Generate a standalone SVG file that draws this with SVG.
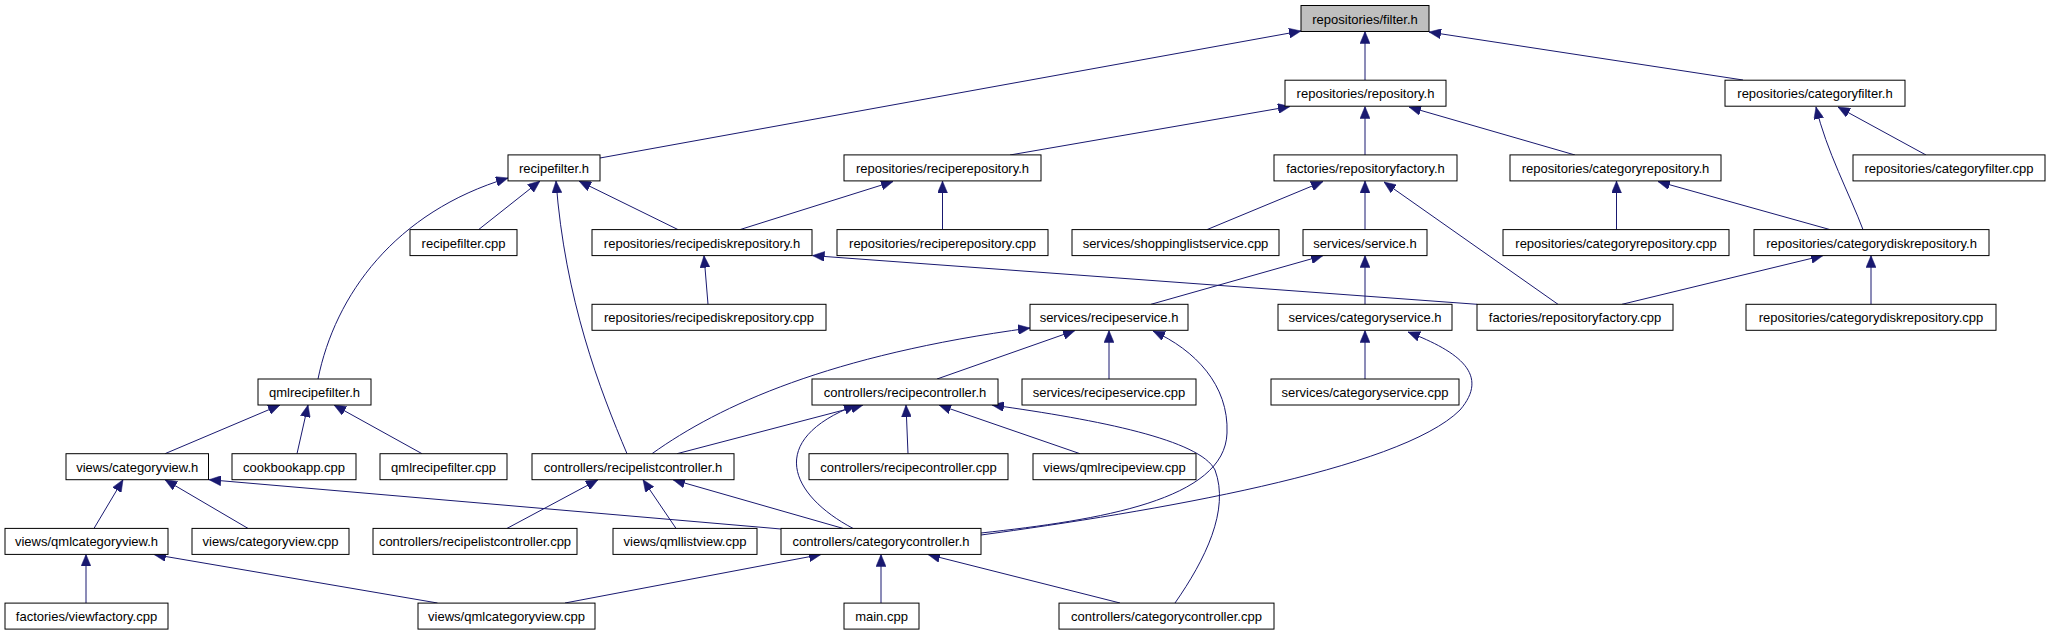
<svg xmlns="http://www.w3.org/2000/svg" width="2049" height="635" viewBox="0 0 2049 635">
<style>
.n rect{fill:#ffffff;stroke:#000000;stroke-width:1}
.n.root rect{fill:#bfbfbf}
.n text{font-family:"Liberation Sans",Arial,sans-serif;font-size:13px;text-anchor:middle;fill:#000}
#edges path{fill:none;stroke:#191970;stroke-width:1;marker-end:url(#arr)}
</style>
<defs>
<marker id="arr" markerUnits="userSpaceOnUse" markerWidth="12" markerHeight="10" refX="12" refY="5" orient="auto" viewBox="0 0 12 10">
<path d="M0,0 L12,5 L0,10 z" fill="#191970" stroke="#191970" stroke-width="0.5"/>
</marker>
</defs>
<rect width="2049" height="635" fill="#ffffff"/>
<g id="edges">
<path d="M600,158 L1301,31"/>
<path d="M1365,80 L1365,31.5"/>
<path d="M1743,80 L1429,32"/>
<path d="M1010,155 L1290,106.5"/>
<path d="M1365,155 L1365,106.5"/>
<path d="M1575,155 L1409,107"/>
<path d="M1926,155 L1838,107"/>
<path d="M1863,229.6 C1850,195 1826,150 1816,107"/>
<path d="M318,379 C335,295 395,212 508,178"/>
<path d="M478.6,229.6 L540,181"/>
<path d="M627,453.7 C600,390 565,300 556,181"/>
<path d="M678,229.6 L579,181"/>
<path d="M740,229.6 L893,181.5"/>
<path d="M942.5,229.6 L942.5,181"/>
<path d="M1207,229.6 L1323,181.5"/>
<path d="M1365,229.6 L1365,181"/>
<path d="M1558,304.3 L1384,182"/>
<path d="M1616.5,229.6 L1616.5,181"/>
<path d="M1830,229.6 L1658,181.5"/>
<path d="M708,304.3 L704,255.6"/>
<path d="M1477,304.3 L812.5,255.6"/>
<path d="M1151,304.3 L1323,255.6"/>
<path d="M1365,304.3 L1365,255.6"/>
<path d="M1622,304.3 L1823,255.6"/>
<path d="M1871,304.3 L1871,255.6"/>
<path d="M652,453.7 C720,405 830,355 1030,328"/>
<path d="M937,379 L1075,330.5"/>
<path d="M1109,379 L1109,330.5"/>
<path d="M981,533 C1100,520 1225,500 1227,433 C1229,385 1195,350 1153,331"/>
<path d="M1365,379 L1365,330.5"/>
<path d="M981,535 C1150,512 1400,470 1460,410 C1490,375 1460,352 1408,332"/>
<path d="M165,453.7 L280,405"/>
<path d="M297,453.7 L308,405"/>
<path d="M422,453.7 L334,405"/>
<path d="M677,453.7 L863,405"/>
<path d="M853,528.4 C790,495 765,440 856,405"/>
<path d="M908,453.7 L906,405"/>
<path d="M1080,453.7 L939,405"/>
<path d="M1175,603 C1205,560 1230,510 1215,470 C1200,440 1100,420 992,405"/>
<path d="M94,528.4 L123,479.7"/>
<path d="M248,528.4 L165,479.7"/>
<path d="M781,529 L209,479.7"/>
<path d="M507,528.4 L598,479.7"/>
<path d="M676,528.4 L643,479.7"/>
<path d="M843,528.4 L673,479.7"/>
<path d="M86,603 L86,554.4"/>
<path d="M437.5,603 L154,554.5"/>
<path d="M565,603 L821,554.5"/>
<path d="M881,603 L881,554.5"/>
<path d="M1120,603 L928,554.5"/>
</g>
<g id="n_filter_h" class="n root"><rect x="1301" y="5.5" width="128" height="26"/><text x="1365" y="23.5">repositories/filter.h</text></g>
<g id="n_repository_h" class="n"><rect x="1285" y="80.2" width="161" height="26"/><text x="1365.5" y="98.2">repositories/repository.h</text></g>
<g id="n_categoryfilter_h" class="n"><rect x="1725" y="80.2" width="180" height="26"/><text x="1815" y="98.2">repositories/categoryfilter.h</text></g>
<g id="n_recipefilter_h" class="n"><rect x="508" y="154.9" width="92" height="26"/><text x="554" y="172.9">recipefilter.h</text></g>
<g id="n_reciperepository_h" class="n"><rect x="844" y="154.9" width="197" height="26"/><text x="942.5" y="172.9">repositories/reciperepository.h</text></g>
<g id="n_repositoryfactory_h" class="n"><rect x="1274" y="154.9" width="183" height="26"/><text x="1365.5" y="172.9">factories/repositoryfactory.h</text></g>
<g id="n_categoryrepository_h" class="n"><rect x="1510" y="154.9" width="211" height="26"/><text x="1615.5" y="172.9">repositories/categoryrepository.h</text></g>
<g id="n_categoryfilter_cpp" class="n"><rect x="1853" y="154.9" width="192" height="26"/><text x="1949" y="172.9">repositories/categoryfilter.cpp</text></g>
<g id="n_recipefilter_cpp" class="n"><rect x="410" y="229.6" width="107" height="26"/><text x="463.5" y="247.6">recipefilter.cpp</text></g>
<g id="n_recipediskrepository_h" class="n"><rect x="592" y="229.6" width="220" height="26"/><text x="702" y="247.6">repositories/recipediskrepository.h</text></g>
<g id="n_reciperepository_cpp" class="n"><rect x="837" y="229.6" width="211" height="26"/><text x="942.5" y="247.6">repositories/reciperepository.cpp</text></g>
<g id="n_shoppinglistservice_cpp" class="n"><rect x="1072" y="229.6" width="207" height="26"/><text x="1175.5" y="247.6">services/shoppinglistservice.cpp</text></g>
<g id="n_service_h" class="n"><rect x="1303" y="229.6" width="124" height="26"/><text x="1365" y="247.6">services/service.h</text></g>
<g id="n_categoryrepository_cpp" class="n"><rect x="1503" y="229.6" width="226" height="26"/><text x="1616" y="247.6">repositories/categoryrepository.cpp</text></g>
<g id="n_categorydiskrepository_h" class="n"><rect x="1754" y="229.6" width="235" height="26"/><text x="1871.5" y="247.6">repositories/categorydiskrepository.h</text></g>
<g id="n_recipediskrepository_cpp" class="n"><rect x="592" y="304.3" width="234" height="26"/><text x="709" y="322.3">repositories/recipediskrepository.cpp</text></g>
<g id="n_recipeservice_h" class="n"><rect x="1030" y="304.3" width="158" height="26"/><text x="1109" y="322.3">services/recipeservice.h</text></g>
<g id="n_categoryservice_h" class="n"><rect x="1278" y="304.3" width="174" height="26"/><text x="1365" y="322.3">services/categoryservice.h</text></g>
<g id="n_repositoryfactory_cpp" class="n"><rect x="1477" y="304.3" width="196" height="26"/><text x="1575" y="322.3">factories/repositoryfactory.cpp</text></g>
<g id="n_categorydiskrepository_cpp" class="n"><rect x="1746" y="304.3" width="250" height="26"/><text x="1871" y="322.3">repositories/categorydiskrepository.cpp</text></g>
<g id="n_qmlrecipefilter_h" class="n"><rect x="258" y="379" width="113" height="26"/><text x="314.5" y="397">qmlrecipefilter.h</text></g>
<g id="n_recipecontroller_h" class="n"><rect x="812" y="379" width="186" height="26"/><text x="905" y="397">controllers/recipecontroller.h</text></g>
<g id="n_recipeservice_cpp" class="n"><rect x="1022" y="379" width="174" height="26"/><text x="1109" y="397">services/recipeservice.cpp</text></g>
<g id="n_categoryservice_cpp" class="n"><rect x="1271" y="379" width="188" height="26"/><text x="1365" y="397">services/categoryservice.cpp</text></g>
<g id="n_categoryview_h" class="n"><rect x="66" y="453.7" width="142.5" height="26"/><text x="137.25" y="471.7">views/categoryview.h</text></g>
<g id="n_cookbookapp_cpp" class="n"><rect x="232" y="453.7" width="124" height="26"/><text x="294" y="471.7">cookbookapp.cpp</text></g>
<g id="n_qmlrecipefilter_cpp" class="n"><rect x="380" y="453.7" width="127" height="26"/><text x="443.5" y="471.7">qmlrecipefilter.cpp</text></g>
<g id="n_recipelistcontroller_h" class="n"><rect x="532" y="453.7" width="202" height="26"/><text x="633" y="471.7">controllers/recipelistcontroller.h</text></g>
<g id="n_recipecontroller_cpp" class="n"><rect x="809" y="453.7" width="199" height="26"/><text x="908.5" y="471.7">controllers/recipecontroller.cpp</text></g>
<g id="n_qmlrecipeview_cpp" class="n"><rect x="1033" y="453.7" width="163" height="26"/><text x="1114.5" y="471.7">views/qmlrecipeview.cpp</text></g>
<g id="n_qmlcategoryview_h" class="n"><rect x="5" y="528.4" width="163" height="26"/><text x="86.5" y="546.4">views/qmlcategoryview.h</text></g>
<g id="n_categoryview_cpp" class="n"><rect x="192" y="528.4" width="157" height="26"/><text x="270.5" y="546.4">views/categoryview.cpp</text></g>
<g id="n_recipelistcontroller_cpp" class="n"><rect x="373" y="528.4" width="204" height="26"/><text x="475" y="546.4">controllers/recipelistcontroller.cpp</text></g>
<g id="n_qmllistview_cpp" class="n"><rect x="613" y="528.4" width="144" height="26"/><text x="685" y="546.4">views/qmllistview.cpp</text></g>
<g id="n_categorycontroller_h" class="n"><rect x="781" y="528.4" width="200" height="26"/><text x="881" y="546.4">controllers/categorycontroller.h</text></g>
<g id="n_viewfactory_cpp" class="n"><rect x="5" y="603.1" width="163" height="26"/><text x="86.5" y="621.1">factories/viewfactory.cpp</text></g>
<g id="n_qmlcategoryview_cpp" class="n"><rect x="418" y="603.1" width="177" height="26"/><text x="506.5" y="621.1">views/qmlcategoryview.cpp</text></g>
<g id="n_main_cpp" class="n"><rect x="844" y="603.1" width="75" height="26"/><text x="881.5" y="621.1">main.cpp</text></g>
<g id="n_categorycontroller_cpp" class="n"><rect x="1059" y="603.1" width="215" height="26"/><text x="1166.5" y="621.1">controllers/categorycontroller.cpp</text></g>
</svg>
